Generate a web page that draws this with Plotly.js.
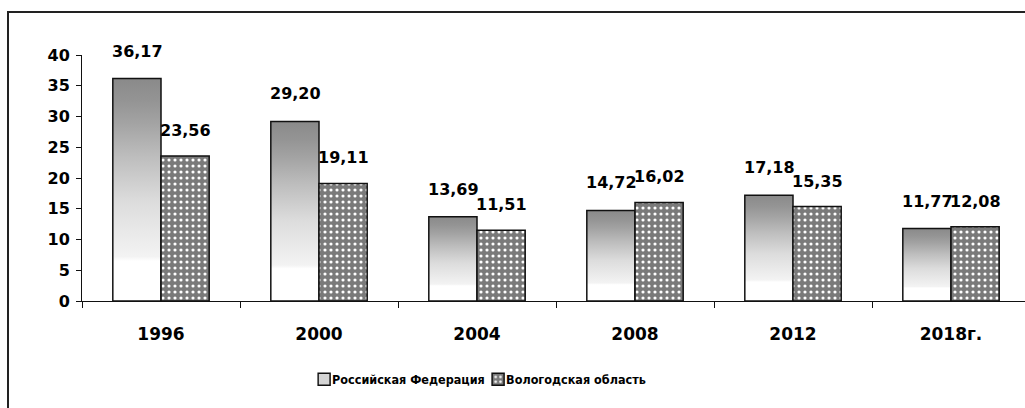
<!DOCTYPE html>
<html>
<head>
<meta charset="utf-8">
<script src="https://cdn.plot.ly/plotly-3.0.1.min.js"></script>
<style>
  html, body { margin:0; padding:0; background:#fff; }
  #wrap { position:relative; width:1025px; height:408px; overflow:hidden; }
  #chart { position:absolute; left:0; top:0; width:1035px; height:408px; }
  #frame { position:absolute; left:7px; top:11px; width:1040px; height:420px;
           border-left:2px solid #222; border-top:2px solid #222; pointer-events:none; }
</style>
</head>
<body>
<div id="wrap">
  <div id="chart"></div>
  <div id="frame"></div>
</div>
<script>
// ---- data ----
var years = ["1996", "2000", "2004", "2008", "2012", "2018г."];
var seriesNames = ["Российская Федерация", "Вологодская область"];
var rf = [36.17, 29.20, 13.69, 14.72, 17.18, 11.77];
var vologda = [23.56, 19.11, 11.51, 16.02, 15.35, 12.08];
var rfLabels = ["36,17", "29,20", "13,69", "14,72", "17,18", "11,77"];
var vologdaLabels = ["23,56", "19,11", "11,51", "16,02", "15,35", "12,08"];
var yTicks = [0, 5, 10, 15, 20, 25, 30, 35, 40];

var FONT = "DejaVu Sans, Liberation Sans, sans-serif";

var traces = [
  {
    type: "bar", name: seriesNames[0], x: years, y: rf,
    marker: { color: "#d4d4d4", line: { color: "#111", width: 1.5 } },
    hoverinfo: "none"
  },
  {
    type: "bar", name: seriesNames[1], x: years, y: vologda,
    marker: {
      color: "#7f7f7f",
      line: { color: "#111", width: 1.5 },
      pattern: { shape: ".", bgcolor: "#7a7a7a", fgcolor: "#ffffff", size: 6, solidity: 0.22, fillmode: "replace" }
    },
    hoverinfo: "none"
  }
];

// category axis: annotation x is the category index
var annotations = [];
for (var i = 0; i < years.length; i++) {
  annotations.push({
    x: i, y: rf[i], xref: "x", yref: "y", text: rfLabels[i],
    showarrow: false, xshift: -24, yshift: 16, yanchor: "bottom",
    font: { family: FONT, size: 16, color: "#000", weight: "bold" }
  });
  annotations.push({
    x: i, y: vologda[i], xref: "x", yref: "y", text: vologdaLabels[i],
    showarrow: false, xshift: 24, yshift: 14, yanchor: "bottom",
    font: { family: FONT, size: 16, color: "#000", weight: "bold" }
  });
}

var layout = {
  width: 1035, height: 408,
  margin: { l: 82, r: 5, t: 55, b: 107, pad: 0 },
  paper_bgcolor: "rgba(0,0,0,0)", plot_bgcolor: "rgba(0,0,0,0)",
  barmode: "group", bargap: 0.39, bargroupgap: 0,
  showlegend: true,
  legend: {
    orientation: "h", x: 0.248, xanchor: "left", y: -0.32, yanchor: "middle",
    entrywidth: 129, entrywidthmode: "pixels",
    font: { family: "DejaVu Sans Condensed, DejaVu Sans, sans-serif", size: 12.5, color: "#000", weight: "bold" },
    tracegroupgap: 0
  },
  xaxis: {
    type: "category", categoryorder: "array", categoryarray: years,
    range: [-0.5, years.length - 0.5], autorange: false,
    showline: true, linecolor: "#111", linewidth: 1,
    ticks: "outside", tickson: "boundaries", ticklen: 6, tickcolor: "#111",
    showgrid: false, zeroline: false, ticklabelstandoff: 18, tickangle: 0,
    tickfont: { family: FONT, size: 17, color: "#000", weight: "bold" }
  },
  yaxis: {
    range: [0, 40], autorange: false, tickvals: yTicks, ticktext: yTicks.map(String),
    showline: true, linecolor: "#111", linewidth: 1,
    ticks: "outside", ticklen: 5, tickcolor: "#111",
    showgrid: false, zeroline: false, ticklabelstandoff: 3,
    tickfont: { family: FONT, size: 16, color: "#000", weight: "bold" }
  },
  annotations: annotations
};

Plotly.newPlot("chart", traces, layout, { staticPlot: true, displayModeBar: false }).then(function (gd) {
  var ns = "http://www.w3.org/2000/svg";
  var svg = gd.querySelector(".main-svg");
  var defs = svg.querySelector("defs");
  if (!defs) { defs = document.createElementNS(ns, "defs"); svg.insertBefore(defs, svg.firstChild); }
  var lg = document.createElementNS(ns, "linearGradient");
  lg.setAttribute("id", "rfgrad");
  lg.setAttribute("x1", "0"); lg.setAttribute("y1", "1");
  lg.setAttribute("x2", "0"); lg.setAttribute("y2", "0");
  var stops = [[0, "#ffffff"], [0.18, "#ffffff"], [0.2, "#f3f3f3"], [0.45, "#dcdcdc"],
               [0.65, "#bdbdbd"], [0.8, "#a3a3a3"], [0.9, "#949494"], [1, "#8a8a8a"]];
  stops.forEach(function (s) {
    var st = document.createElementNS(ns, "stop");
    st.setAttribute("offset", s[0]); st.setAttribute("stop-color", s[1]);
    lg.appendChild(st);
  });
  defs.appendChild(lg);
  var tr = gd.querySelectorAll(".barlayer .trace")[0];
  if (tr) tr.querySelectorAll("path").forEach(function (p) { p.style.fill = "url(#rfgrad)"; });
  // tighten legend: small square symbol right before the text
  gd.querySelectorAll(".legend .traces").forEach(function (g) {
    var pts = g.querySelector(".legendpoints");
    if (pts) pts.setAttribute("transform", "translate(-13,0)");
    var txt = g.querySelector(".legendtext");
    if (txt) txt.setAttribute("x", "15");
  });
});
</script>
</body>
</html>
